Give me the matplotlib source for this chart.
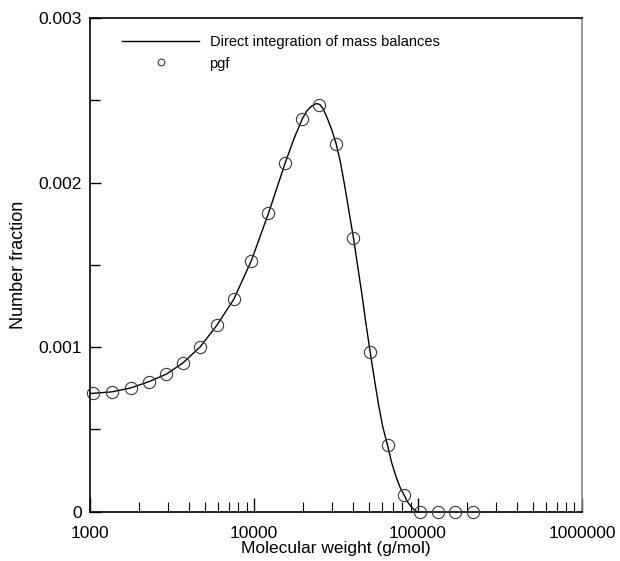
import matplotlib
matplotlib.use("Agg")
import matplotlib.pyplot as plt
from matplotlib.ticker import FixedLocator, LogLocator, NullFormatter

plt.rcParams['font.family'] = ['Liberation Sans', 'DejaVu Sans']

# pgf points
pgf_mw = [1039, 1357, 1771, 2300, 2921, 3667, 4690, 5930, 7530, 9640,
          12240, 15480, 19660, 24960, 31700, 40400, 51100, 65200, 82400,
          103100, 132300, 168700, 215000]
pgf_frac = [0.000720, 0.000727, 0.000752, 0.000791, 0.000836, 0.000902,
            0.001001, 0.001132, 0.001291, 0.001526, 0.001812, 0.002118,
            0.002389, 0.002474, 0.002235, 0.001664, 0.000969, 0.000404,
            0.000099, 0.0, 0.0, 0.0, 0.0]

# direct integration curve
line_mw = [1000, 1357, 1771, 2300, 2921, 3667, 4690, 5930, 7530, 9640,
           12240, 15480, 17500, 19660, 21000, 22500, 24000, 25200, 26500,
           28000, 29800, 31700, 33700, 35800, 38000, 40400, 42900, 45500,
           48200, 51100, 54500, 57700, 61000, 65200, 69000, 73300,
           78000, 82400, 86000, 90000, 94000, 98600]
line_frac = [0.000718, 0.000728, 0.000752, 0.000791, 0.000836, 0.000902,
             0.001001, 0.001132, 0.001291, 0.001526, 0.001812, 0.002118,
             0.002265, 0.002385, 0.002435, 0.002465, 0.002480, 0.002474,
             0.002445, 0.002390, 0.002320, 0.002235, 0.002120, 0.001975,
             0.001820, 0.001664, 0.001490, 0.001320, 0.001140, 0.000969,
             0.000790, 0.000640, 0.000515, 0.000404, 0.000300, 0.000215,
             0.000145, 0.000099, 0.000062, 0.000035, 0.000014, 0.0]

fig = plt.figure(figsize=(6.2, 5.61), dpi=100)
ax = fig.add_axes([0.1452, 0.0879, 0.7935, 0.8801])

ax.plot(line_mw, line_frac, color='black', lw=1.0,
        label='Direct integration of mass balances')
ax.plot(pgf_mw, pgf_frac, linestyle='none', marker='o', markersize=8.8,
        markerfacecolor='none', markeredgecolor='#3a3a3a', markeredgewidth=0.8,
        clip_on=False, label='pgf', zorder=3)

ax.set_xscale('log')
ax.set_xlim(1000, 1000000)
ax.set_ylim(0, 0.003)

ax.xaxis.set_major_locator(FixedLocator([1000, 10000, 100000, 1000000]))
ax.set_xticklabels(['1000', '10000', '100000', '1000000'])
ax.xaxis.set_minor_locator(LogLocator(base=10, subs=range(2, 10)))
ax.xaxis.set_minor_formatter(NullFormatter())

ax.yaxis.set_major_locator(FixedLocator([0, 0.001, 0.002, 0.003]))
ax.set_yticklabels(['0', '0.001', '0.002', '0.003'])
ax.yaxis.set_minor_locator(FixedLocator([0.0005, 0.0015, 0.0025]))

ax.tick_params(axis='both', which='both', direction='in', top=False, right=False,
               labelsize=12.5, color='black')
ax.tick_params(axis='x', which='major', length=10, width=1.0, pad=10.5)
ax.tick_params(axis='x', which='minor', length=7, width=0.8)
ax.tick_params(axis='y', which='major', length=8, width=1.0, pad=6)
ax.tick_params(axis='y', which='minor', length=7, width=1.0)

for s in ax.spines.values():
    s.set_linewidth(1.2)
ax.spines['right'].set_color('#888888')

ax.set_xlabel('Molecular weight (g/mol)', fontsize=12.5, labelpad=0)
ax.set_ylabel('Number fraction', fontsize=13, labelpad=8)

leg = ax.legend(loc='upper left', bbox_to_anchor=(0.065, 0.965), frameon=False,
                fontsize=10.5, handlelength=5.3, handletextpad=0.7,
                labelspacing=0.5, borderpad=0, borderaxespad=0, markerscale=0.55)

fig.savefig('out.png', dpi=100)
